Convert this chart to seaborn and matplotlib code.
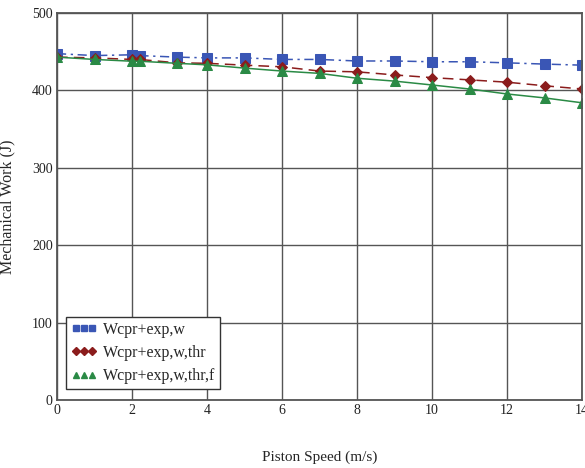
import matplotlib
matplotlib.use("Agg")
import matplotlib.pyplot as plt
import seaborn as sns
import pandas as pd
from matplotlib.lines import Line2D

speed = [0, 1, 2, 2.2, 3.2, 4, 5, 6, 7, 8, 9, 10, 11, 12, 13, 14]
w_base = [447.5, 445, 446, 445, 443, 442, 442, 440, 440, 438, 438, 437, 437, 435.6, 434, 432.6]
w_thr = [443, 442, 440, 440, 435.6, 435, 432.6, 430.5, 425, 424, 420, 416.5, 413.6, 410.6, 406, 401.8]
w_thr_f = [443, 440, 437.7, 437.7, 435, 433, 428.8, 425, 422, 415.7, 412, 407, 401.8, 395.4, 390.3, 384]
labels = ["Wcpr+exp,w", "Wcpr+exp,w,thr", "Wcpr+exp,w,thr,f"]

sns.set_theme(style="white")
plt.rcParams['font.family'] = ['Liberation Serif', 'DejaVu Serif']

fig = plt.figure(figsize=(5.85, 4.68), dpi=100)
ax = fig.add_axes([57/585, 68/468, 525/585, 387/468])

styles = [
    (w_base, "#3a56b5", "s", (0, (6, 3, 1.5, 3)), 6.5, 5),
    (w_thr, "#8b1c1c", "D", (0, (7, 4)), 5.5, 4.5),
    (w_thr_f, "#2a8a45", "^", "-", 6.5, 5),
]
handles = []
for (vals, col, mk, ls, ms, lms), lab in zip(styles, labels):
    df = pd.DataFrame({"speed": speed, "work": vals})
    sns.lineplot(data=df, x="speed", y="work", ax=ax, color=col, marker=mk,
                 markersize=ms, markeredgecolor=col, linestyle=ls, linewidth=1.1)
    handles.append(Line2D([], [], color=col, marker=mk, linestyle="none", markersize=lms))

ax.set_xlim(0, 14)
ax.set_ylim(0, 500)
ax.set_xticks(range(0, 15, 2))
ax.set_yticks(range(0, 501, 100))
ax.grid(True, color="#555555", linewidth=1.0)
for s in ax.spines.values():
    s.set_color("#555555")
    s.set_linewidth(1.3)
ax.tick_params(length=0, labelsize=10, colors="#222222", pad=3)
ax.set_xlabel("Piston Speed (m/s)", fontsize=11, labelpad=24)
ax.set_ylabel("Mechanical Work (J)", fontsize=11.5)
ax.yaxis.set_label_coords(-0.08, 0.5)

leg = ax.legend(handles, labels, loc="lower left", bbox_to_anchor=(0.012, 0.02),
                numpoints=3, handlelength=1.6, handletextpad=0.4, fontsize=11.5,
                frameon=True, fancybox=False, borderpad=0.3, borderaxespad=0.2,
                labelspacing=0.45, framealpha=1)
leg.get_frame().set_edgecolor("#333333")
leg.get_frame().set_linewidth(1.0)

fig.savefig("out.png", dpi=100)
